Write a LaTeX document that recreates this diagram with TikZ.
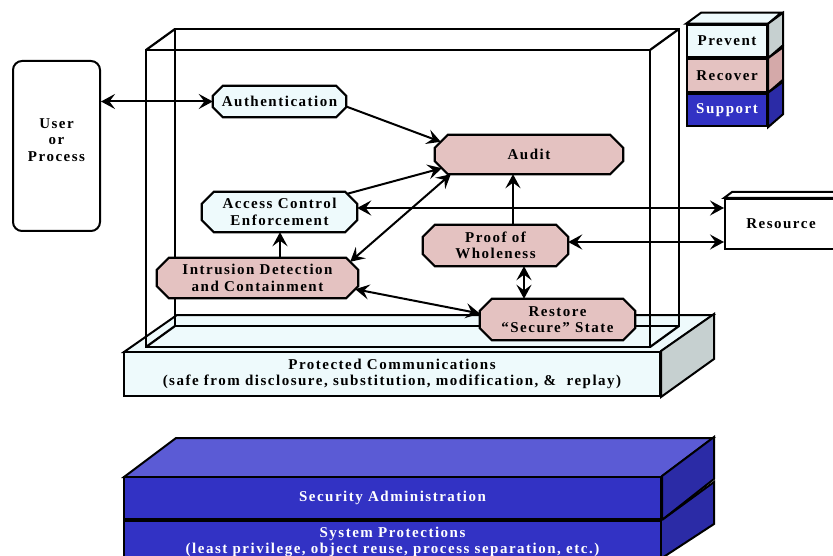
\documentclass[tikz,border=0pt]{standalone}
\usepackage{fontspec}
\setmainfont{Liberation Serif}[LetterSpace=10]
\usetikzlibrary{arrows.meta,calc}
\definecolor{lcyan}{HTML}{EEFAFC}
\definecolor{pinkfill}{HTML}{E4C2C1}
\definecolor{sidegray}{HTML}{C6D0D0}
\definecolor{pinkside}{HTML}{D4A9A9}
\definecolor{bluefront}{HTML}{3232C4}
\definecolor{bluetop}{HTML}{5B5BD5}
\definecolor{blueside}{HTML}{2B2BA6}
\newcommand\dfont{\bfseries\fontsize{15}{16.5}\selectfont}
\pgfdeclarelayer{base}
\pgfdeclarelayer{octfill}
\pgfsetlayers{base,octfill,main}
% octagon outline behind a named node: [style]{node}{chamfer}
\newcommand\octo[3][]{%
  \begin{pgfonlayer}{octfill}
  \path[octline,#1] ($(#2.north west)+(#3,0)$) -- ($(#2.north east)+(-#3,0)$)
    -- ($(#2.north east)+(0,#3)$) -- ($(#2.south east)+(0,-#3)$)
    -- ($(#2.south east)+(-#3,0)$) -- ($(#2.south west)+(#3,0)$)
    -- ($(#2.south west)+(0,-#3)$) -- ($(#2.north west)+(0,#3)$) -- cycle;
  \end{pgfonlayer}}
\tikzset{
  edge/.style={draw=black, line width=2pt, line join=miter},
  glass/.style={draw=black, line width=2.2pt},
  octline/.style={draw=black, line width=2.2pt, line join=miter},
  octnode/.style={rectangle, inner sep=0pt, align=center, font=\dfont},
  slab/.style={draw, line width=2pt, inner sep=0pt, align=center, font=\dfont},
  legendbox/.style={draw, line width=2pt, inner sep=0pt, minimum width=80pt, minimum height=32.5pt, font=\dfont},
  conn/.style={line width=2pt, -{Stealth[length=14pt,width=15pt,inset=5.5pt]}},
  dconn/.style={line width=2pt, {Stealth[length=14pt,width=15pt,inset=5.5pt]}-{Stealth[length=14pt,width=15pt,inset=5.5pt]}},
}
\begin{document}
\begin{tikzpicture}[x=1pt,y=-1pt]
\useasboundingbox (0,0) rectangle (833,556);
\clip (0,0) rectangle (833,556);

\begin{pgfonlayer}{base}
% ---- bottom support block
\draw[edge, fill=bluetop] (124,477) -- (176,438) -- (713,438) -- (661,477) -- cycle;
\node[slab, fill=bluefront, text=white, minimum width=537pt, minimum height=42pt] (secadm) at (392.5,498) {Security Administration};
\node[slab, fill=bluefront, text=white, minimum width=537pt, minimum height=42pt, anchor=north] (sysprot) at (secadm.south) {System Protections\\(least privilege, object reuse, process separation, etc.)};
\draw[edge, fill=blueside] (secadm.north east) -- ++(52,-39) -- ++(0,42) -- (secadm.south east) -- cycle;
\draw[edge, fill=blueside] (sysprot.north east) -- ++(52,-38) -- ++(0,42) -- ++(-52,34);

% ---- protected communications platform
\draw[edge, fill=lcyan] (124,352) -- (177,315) -- (713,315) -- (660,352) -- cycle;
\node[slab, fill=lcyan, minimum width=536pt, minimum height=44pt] (comm) at (392,374) {Protected Communications\\(safe from disclosure, substitution, modification, \& \ replay)};
\draw[edge, fill=sidegray] (comm.north east) -- ++(53,-37) -- ++(0,45) -- (comm.south east) -- cycle;

% ---- glass box
\draw[glass] (175,29) rectangle (679,326);
\draw[glass] (146,50) rectangle (650,347);
\draw[glass] (146,50) -- (175,29) (650,50) -- (679,29) (650,347) -- (679,326) (146,347) -- (175,326);
\end{pgfonlayer}

% ---- user and resource
\node[draw, line width=2pt, rounded corners=9pt, fill=white, minimum width=87pt, minimum height=170pt,
  label={[yshift=6pt, align=center, font=\dfont]center:User\\or\\Process}] (user) at (56.5,146) {};
\node[draw, line width=2pt, fill=white, minimum width=112pt, minimum height=50pt, font=\dfont] (res) at (781,224) {Resource};
\draw[edge, fill=white] (res.north west) -- ++(8,-6) -- ++(120,0) -- (res.north east) -- cycle;

% ---- legend
\node[legendbox, fill=lcyan] (prev) at (727,41) {Prevent};
\node[legendbox, fill=pinkfill, anchor=north] (recov) at (prev.south) {Recover};
\node[legendbox, fill=bluefront, text=white, anchor=north] (supp) at (recov.south) {Support};
\draw[edge, fill=lcyan] (prev.north west) -- ++(15,-11) -- ++(80,0) -- (prev.north east) -- cycle;
\draw[edge, fill=sidegray] (prev.north east) -- ++(15,-11) -- ++(0,32.5) -- (prev.south east) -- cycle;
\draw[edge, fill=pinkside] (recov.north east) -- ++(15,-11) -- ++(0,32.5) -- (recov.south east) -- cycle;
\draw[edge, fill=blueside] (supp.north east) -- ++(15,-11) -- ++(0,32.5) -- (supp.south east) -- cycle;

% ---- function nodes (octagons)
\node[octnode, minimum width=133pt, minimum height=31pt] (auth) at (279.5,101.5) {Authentication};
\octo[fill=lcyan]{auth}{10}
\node[octnode, minimum width=188pt, minimum height=39pt] (audit) at (529,154.5) {Audit};
\octo[fill=pinkfill]{audit}{13}
\node[octnode, minimum width=155pt, minimum height=40pt] (ace) at (279.5,212) {Access Control\\Enforcement};
\octo[fill=lcyan]{ace}{12}
\node[octnode, minimum width=201pt, minimum height=40pt] (ids) at (257.5,278) {Intrusion Detection\\and Containment};
\octo[fill=pinkfill]{ids}{12}
\node[octnode, minimum width=145pt, minimum height=41pt] (pow) at (495.5,245.5) {Proof of\\Wholeness};
\octo[fill=pinkfill]{pow}{12}
\node[octnode, minimum width=155pt, minimum height=41pt] (rss) at (557.5,319.5) {Restore\\“Secure” State};
\octo[fill=pinkfill]{rss}{12}

% ---- connectors
\draw[dconn] (user.east |- auth.west) -- (auth.west);
\draw[conn] ([yshift=-5pt]auth.east) -- ($(audit.north west)+(6,7)$);
\draw[conn] ($(ace.north east)+(-10,2)$) -- ($(audit.south west)+(7,-6)$);
\draw[dconn] ($(audit.south west)+(16,0)$) -- ($(ids.north east)+(-8,4)$);
\draw[dconn] ([yshift=4pt]ace.east) -- ([yshift=4pt]ace.east -| res.west);
\draw[conn] ([xshift=17.5pt]pow.north) -- ([xshift=17.5pt]pow.north |- audit.south);
\draw[dconn] ([yshift=3.5pt]pow.east) -- ([yshift=3.5pt]pow.east -| res.west);
\draw[dconn] ([xshift=28.5pt]pow.south) -- ([xshift=28.5pt]pow.south |- rss.north);
\draw[dconn] ($(ids.south east)+(-3,-9)$) -- ([yshift=6pt]rss.west);
\draw[conn] ([xshift=22.5pt]ids.north) -- ([xshift=22.5pt]ids.north |- ace.south);
\end{tikzpicture}
\end{document}
